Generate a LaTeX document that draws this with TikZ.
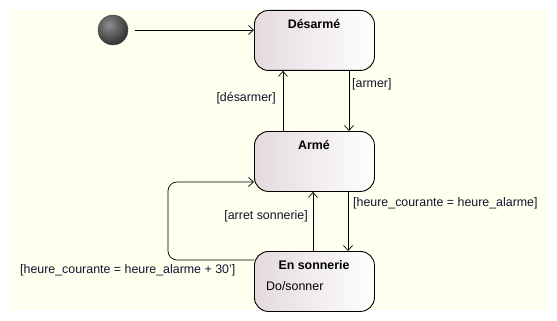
\documentclass[tikz,border=0pt]{standalone}
\usepackage{fontspec}
\setmainfont{Liberation Sans}
\usetikzlibrary{arrows.meta}
\definecolor{paper}{HTML}{FFFFF0}
\definecolor{stateleft}{HTML}{E4DADD}
\definecolor{labelink}{HTML}{14142E}
\begin{document}
\begin{tikzpicture}[x=1pt,y=-1pt,
  state/.style={draw=black, line width=0.9pt, rounded corners=14pt,
    left color=stateleft, right color=white, minimum width=120pt,
    minimum height=60pt, anchor=north west, inner sep=0pt},
  title/.style={font=\fontsize{12.4}{14}\selectfont\bfseries},
  guard/.style={font=\fontsize{12.4}{14}\selectfont, text=labelink, inner sep=0pt},
  trans/.style={draw=black, line width=0.7pt,
    -{Straight Barb[length=5pt,width=9pt,line width=0.7pt]}}]
  % page and drawing area
  \path[fill=white] (0,0) rectangle (557,321);
  \path[fill=paper] (10,10) rectangle (547,310);
  \useasboundingbox (0,0) rectangle (557,321);

  % initial pseudo-state: dark sphere with a soft highlight
  \begin{scope}
    \clip (113,30) circle (15);
    \shade[inner color=black!45, outer color=black!88] (109,25) circle (24);
  \end{scope}
  \draw[black!70, line width=0.4pt] (113,30) circle (15);
  \coordinate (init) at (135,30);

  % states
  \node[state] (des) at (254,10) {};
  \node[state] (arm) at (254,131) {};
  \node[state] (son) at (254,251) {};
  \node[title] at (314,24) {Désarmé};
  \node[title] at (314,145) {Armé};
  \node[title] at (314,265) {En sonnerie};
  \node[guard, text=black, anchor=west] at (266,286) {Do/sonner};

  % transitions
  \draw[trans] (init) -- (des.west |- init);
  \draw[trans] (des.south -| 349,0) -- (arm.north -| 349,0);
  \draw[trans] (arm.north -| 283,0) -- (des.south -| 283,0);
  \draw[trans] (arm.south -| 348,0) -- (son.north -| 348,0);
  \draw[trans] (son.north -| 313,0) -- (arm.south -| 313,0);
  \draw[trans, rounded corners=9pt] (son.west |- 0,260) -- (168,260) -- (168,182) -- (arm.west |- 0,182);

  % guards
  \node[guard, anchor=west] at (352,84) {[armer]};
  \node[guard, anchor=east] at (276,98) {[désarmer]};
  \node[guard, anchor=west] at (353,203) {[heure\_courante = heure\_alarme]};
  \node[guard, anchor=east] at (308,216) {[arret sonnerie]};
  \node[guard, anchor=west] at (20,270) {[heure\_courante = heure\_alarme + 30']};
\end{tikzpicture}
\end{document}
